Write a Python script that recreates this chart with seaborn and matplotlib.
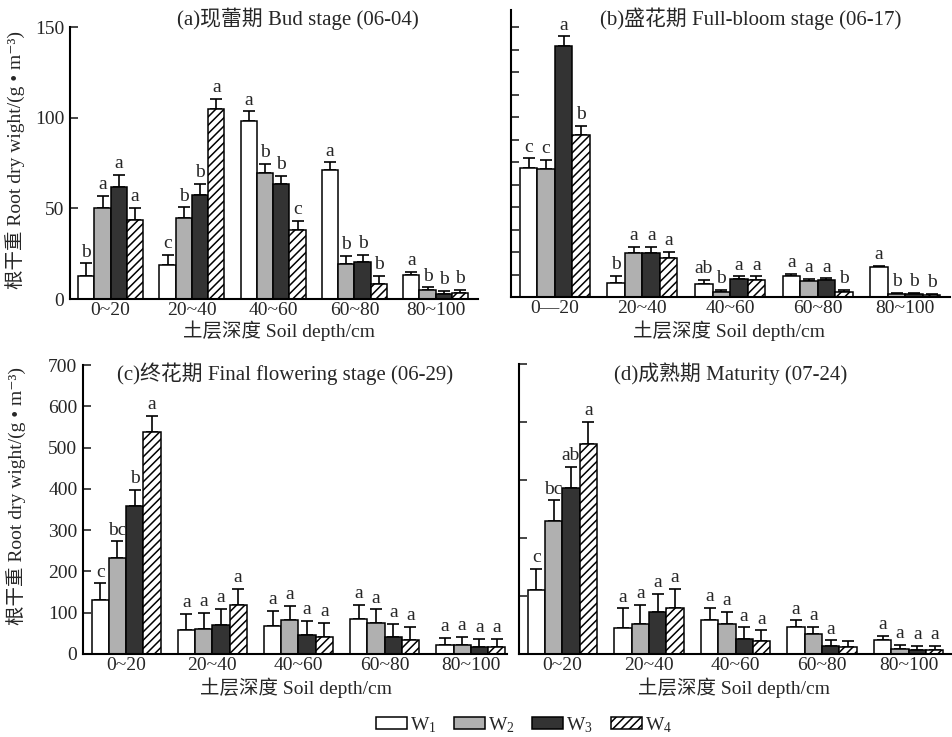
import numpy as np
import pandas as pd
import matplotlib
matplotlib.use('Agg')
import matplotlib.pyplot as plt
from matplotlib.patches import Patch
from matplotlib.container import BarContainer
import seaborn as sns

# ---------------- data ----------------
depths = ['0~20', '20~40', '40~60', '60~80', '80~100']
depth_labels_b = ['0—20', '20~40', '40~60', '60~80', '80~100']
treatments = ['W1', 'W2', 'W3', 'W4']

# (a) Bud stage
a_W1 = [12.7, 18.5, 98.4, 71.2, 13.2]
a_W2 = [50.0, 44.4, 69.4, 19.5, 4.8]
a_W3 = [61.5, 57.5, 63.2, 20.2, 2.8]
a_W4 = [43.5, 104.6, 38.0, 8.4, 3.3]
a_err_W1 = [6.9, 5.9, 5.1, 4.1, 1.8]
a_err_W2 = [6.7, 6.1, 5.1, 4.2, 1.6]
a_err_W3 = [7.0, 5.8, 4.7, 4.0, 1.6]
a_err_W4 = [6.6, 5.9, 5.1, 4.3, 1.8]
a_let_W1 = ['b', 'c', 'a', 'a', 'a']
a_let_W2 = ['a', 'b', 'b', 'b', 'b']
a_let_W3 = ['a', 'b', 'b', 'b', 'b']
a_let_W4 = ['a', 'a', 'c', 'b', 'b']

# (b) Full-bloom stage
b_W1 = [71.8, 8.0, 7.4, 11.9, 16.7]
b_W2 = [70.9, 24.3, 2.8, 8.7, 1.9]
b_W3 = [139.4, 24.3, 9.8, 9.3, 1.7]
b_W4 = [90.0, 21.5, 9.7, 3.0, 1.3]
b_err_W1 = [5.2, 3.7, 1.9, 1.1, 0.6]
b_err_W2 = [5.4, 3.5, 1.3, 1.3, 0.5]
b_err_W3 = [5.4, 3.5, 1.7, 1.1, 0.5]
b_err_W4 = [5.0, 3.5, 1.8, 1.1, 0.6]
b_let_W1 = ['c', 'b', 'ab', 'a', 'a']
b_let_W2 = ['c', 'a', 'b', 'a', 'b']
b_let_W3 = ['a', 'a', 'a', 'a', 'b']
b_let_W4 = ['b', 'a', 'a', 'b', 'b']

# (c) Final flowering stage
c_W1 = [132, 58, 69, 85, 22]
c_W2 = [233, 60, 83, 74, 23]
c_W3 = [358, 70, 45, 40, 18]
c_W4 = [538, 118, 41, 34, 16]
c_err_W1 = [39, 40, 35, 34, 17]
c_err_W2 = [40, 39, 34, 34, 18]
c_err_W3 = [39, 40, 35, 33, 19]
c_err_W4 = [38, 39, 35, 32, 20]
c_let_W1 = ['c', 'a', 'a', 'a', 'a']
c_let_W2 = ['bc', 'a', 'a', 'a', 'a']
c_let_W3 = ['b', 'a', 'a', 'a', 'a']
c_let_W4 = ['a', 'a', 'a', 'a', 'a']

# (d) Maturity
d_W1 = [155, 63, 81, 64, 35]
d_W2 = [321, 72, 72, 48, 13]
d_W3 = [401, 101, 36, 19, 10]
d_W4 = [506, 112, 31, 17, 10]
d_err_W1 = [51, 47, 31, 17, 9]
d_err_W2 = [50, 46, 30, 18, 9]
d_err_W3 = [51, 45, 28, 14, 9]
d_err_W4 = [54, 46, 26, 15, 9]
d_let_W1 = ['c', 'a', 'a', 'a', 'a']
d_let_W2 = ['bc', 'a', 'a', 'a', 'a']
d_let_W3 = ['ab', 'a', 'a', 'a', 'a']
d_let_W4 = ['a', 'a', 'a', '', 'a']

titles = ['(a)现蕾期 Bud stage (06-04)', '(b)盛花期 Full-bloom stage (06-17)',
          '(c)终花期 Final flowering stage (06-29)', '(d)成熟期 Maturity (07-24)']
xlabel = '土层深度 Soil depth/cm'
ylabel = '根干重 Root dry wight/(g • m⁻³)'
legend_labels = ['W$_1$', 'W$_2$', 'W$_3$', 'W$_4$']

# ---------------- style ----------------
sns.set_style('ticks')
FONTS = ['Liberation Serif', 'DejaVu Serif', 'Noto Sans CJK SC']
plt.rcParams['font.family'] = FONTS
plt.rcParams['mathtext.fontset'] = 'custom'
plt.rcParams['mathtext.rm'] = 'Liberation Serif'
plt.rcParams['mathtext.it'] = 'Liberation Serif:italic'
plt.rcParams['hatch.linewidth'] = 1.1
FS = 14

colors = {'W1': '#ffffff', 'W2': '#b0b0b0', 'W3': '#333333', 'W4': '#ffffff'}

W, H = 952, 737
fig = plt.figure(figsize=(W / 100, H / 100), dpi=100)


def make_ax(left, top, right, bottom):
    return fig.add_axes([left / W, 1 - bottom / H, (right - left) / W, (bottom - top) / H])


def panel(ax, vals, errs, lets, ticklabels, ylim, yticks, show_ylabels, xlim):
    rows = []
    for t, v, e, l in zip(treatments, vals, errs, lets):
        for d, vv, ee, ll in zip(depths, v, e, l):
            rows.append({'depth': d, 'treat': t, 'value': vv, 'err': ee, 'let': ll})
    df = pd.DataFrame(rows)
    sns.barplot(data=df, x='depth', y='value', hue='treat', order=depths,
                hue_order=treatments, palette=colors, saturation=1,
                edgecolor='black', linewidth=1.1, errorbar=None, width=0.8,
                ax=ax, legend=False, zorder=2)
    bar_conts = [c for c in ax.containers if isinstance(c, BarContainer)]
    for ti, cont in enumerate(bar_conts):
        t = treatments[ti]
        sub = df[df.treat == t].set_index('depth')
        xs, ys, es = [], [], []
        for di, bar in enumerate(cont):
            d = depths[di]
            if t == 'W4':
                bar.set_hatch('////')
            xc = bar.get_x() + bar.get_width() / 2
            h = bar.get_height()
            xs.append(xc); ys.append(h); es.append(sub.loc[d, 'err'])
            ax.annotate(sub.loc[d, 'let'], (xc, h + sub.loc[d, 'err']),
                        xytext=(0, 2), textcoords='offset points',
                        ha='center', va='bottom', fontsize=FS)
        ax.errorbar(xs, ys, yerr=[np.zeros(len(es)), es], fmt='none',
                    ecolor='black', elinewidth=1.2, capsize=4, capthick=1.2, zorder=1)
    ax.set_ylim(*ylim)
    ax.set_xlim(*xlim)
    ax.set_yticks(yticks)
    if not show_ylabels:
        ax.set_yticklabels([])
    ax.set_xticks(range(len(depths)))
    ax.set_xticklabels(ticklabels, fontsize=FS)
    ax.tick_params(axis='x', length=0, pad=2)
    ax.tick_params(axis='y', direction='in', length=6, width=1.2, labelsize=FS, pad=4)
    ax.set_xlabel('')
    ax.set_ylabel('')
    sns.despine(ax=ax)
    for s in ['left', 'bottom']:
        ax.spines[s].set_linewidth(1.5)
        ax.spines[s].set_color('black')
    ax.patch.set_alpha(0)


ax_a = make_ax(70, 27, 478, 299)
panel(ax_a, [a_W1, a_W2, a_W3, a_W4], [a_err_W1, a_err_W2, a_err_W3, a_err_W4],
      [a_let_W1, a_let_W2, a_let_W3, a_let_W4], depths, (0, 150), [0, 50, 100, 150], True, (-0.5, 4.52))

ax_b = make_ax(511, 10, 950, 297)
panel(ax_b, [b_W1, b_W2, b_W3, b_W4], [b_err_W1, b_err_W2, b_err_W3, b_err_W4],
      [b_let_W1, b_let_W2, b_let_W3, b_let_W4], depth_labels_b, (0, 150 * 287 / 270),
      np.arange(0, 151, 12.5), False, (-0.5, 4.51))

ax_c = make_ax(83, 365, 507, 654)
panel(ax_c, [c_W1, c_W2, c_W3, c_W4], [c_err_W1, c_err_W2, c_err_W3, c_err_W4],
      [c_let_W1, c_let_W2, c_let_W3, c_let_W4], depths, (0, 700), np.arange(0, 701, 100), True, (-0.5, 4.42))

ax_d = make_ax(519, 364, 952, 654)
panel(ax_d, [d_W1, d_W2, d_W3, d_W4], [d_err_W1, d_err_W2, d_err_W3, d_err_W4],
      [d_let_W1, d_let_W2, d_let_W3, d_let_W4], depths, (0, 700), np.arange(0, 701, 140), False, (-0.5, 4.5))

# titles
for (x, y), t in zip([(298, 19), (751, 19), (285, 374), (731, 374)], titles):
    fig.text(x / W, 1 - y / H, t, ha='center', va='center', fontsize=15)

# x labels
for x, y in [(279, 331), (729, 331), (296, 688), (734, 688)]:
    fig.text(x / W, 1 - y / H, xlabel, ha='center', va='center', fontsize=FS)

# y labels
for x, y in [(16, 160), (17, 496)]:
    fig.text(x / W, 1 - y / H, ylabel, ha='center', va='center', rotation=90, fontsize=FS)

# legend
handles = [Patch(facecolor=colors[t], edgecolor='black', linewidth=1.1,
                 hatch='////' if t == 'W4' else None) for t in treatments]
fig.legend(handles=handles, labels=legend_labels, loc='center',
           bbox_to_anchor=(524 / W, 1 - 725 / H), ncol=4, frameon=False,
           fontsize=FS, handlelength=1.6, handleheight=0.55, handletextpad=0.15,
           columnspacing=0.9, borderaxespad=0)

fig.savefig('out.png', dpi=100)
